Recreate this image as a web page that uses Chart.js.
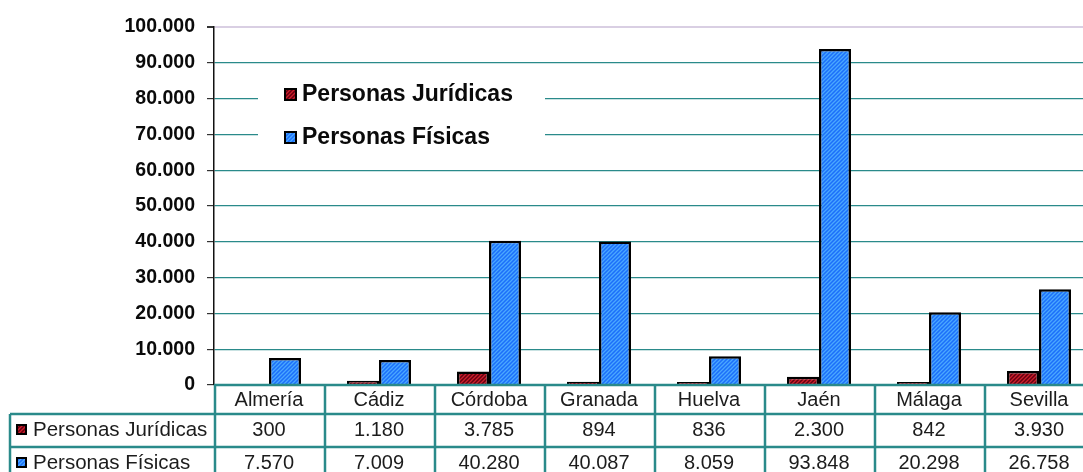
<!DOCTYPE html>
<html>
<head>
<meta charset="utf-8">
<script src="https://cdn.jsdelivr.net/npm/chart.js@4"></script>
<style>
  html, body { margin: 0; padding: 0; background: #fff; overflow: hidden; }
  #wrap { width: 1100px; height: 472px; position: relative; }
</style>
</head>
<body>
<div id="wrap"><canvas id="chart"></canvas></div>
<script>
// =============================
// DATOS
// =============================
const provincias = ["Almería", "Cádiz", "Córdoba", "Granada", "Huelva", "Jaén", "Málaga", "Sevilla"];
const juridicas = [300, 1180, 3785, 894, 836, 2300, 842, 3930];
const fisicas = [7570, 7009, 40280, 40087, 8059, 93848, 20298, 26758];
const serieNombres = ["Personas Jurídicas", "Personas Físicas"];
const yTicks = [0, 10000, 20000, 30000, 40000, 50000, 60000, 70000, 80000, 90000, 100000];

// =============================
// UTIL
// =============================
const FONT = '"Liberation Sans", Arial, sans-serif';
const TEAL = "#2a8a8a";
const fmt = (n) => String(n).replace(/\B(?=(\d{3})+(?!\d))/g, ".");

function hatch(base, stripe) {
  const c = document.createElement("canvas");
  c.width = 4; c.height = 4;
  const g = c.getContext("2d");
  g.fillStyle = base;
  g.fillRect(0, 0, 4, 4);
  g.strokeStyle = stripe;
  g.lineWidth = 1.3;
  g.beginPath();
  g.moveTo(0, 4); g.lineTo(4, 0);
  g.moveTo(-1, 1); g.lineTo(1, -1);
  g.moveTo(3, 5); g.lineTo(5, 3);
  g.stroke();
  return document.getElementById("chart").getContext("2d").createPattern(c, "repeat");
}

const fillRojo = hatch("#66000f", "#cc1f2d");
const fillAzul = hatch("#1c6ffa", "#4aa8ff");

function marker(ctx, x, y, size, fill) {
  ctx.fillStyle = fill;
  ctx.fillRect(x, y, size, size);
  ctx.strokeStyle = "#000";
  ctx.lineWidth = 2;
  ctx.strokeRect(x, y, size, size);
}

// leyenda dentro del área del gráfico
const leyendaPlugin = {
  id: "leyenda",
  afterDatasetsDraw(chart) {
    const { ctx, chartArea } = chart;
    const x0 = chartArea.left + 44;
    ctx.save();
    ctx.fillStyle = "#fff";
    ctx.fillRect(x0, 76, 287, 84);
    chart.data.datasets.forEach((ds, i) => {
      const cy = 95 + i * 43;
      marker(ctx, x0 + 27, cy - 6, 11, ds.backgroundColor);
      ctx.fillStyle = "#0a0a0a";
      ctx.font = "bold 23px " + FONT;
      ctx.textBaseline = "middle";
      ctx.fillText(ds.label, x0 + 44, cy);
    });
    ctx.restore();
  }
};

// tabla de datos bajo el eje
const tablaPlugin = {
  id: "tabla",
  afterDraw(chart) {
    const { ctx } = chart;
    const x = chart.scales.x;
    const top = chart.chartArea.bottom;
    const r1 = top + 29, r2 = top + 62, bottom = chart.height + 10;
    const colW = (x.right - x.left) / provincias.length;
    ctx.save();
    ctx.strokeStyle = TEAL;
    ctx.lineWidth = 2.5;
    ctx.beginPath();
    ctx.moveTo(x.left, top); ctx.lineTo(chart.width, top);
    ctx.moveTo(10, r1); ctx.lineTo(chart.width, r1);
    ctx.moveTo(10, r2); ctx.lineTo(chart.width, r2);
    ctx.moveTo(10, r1); ctx.lineTo(10, bottom);
    for (let i = 0; i <= provincias.length; i++) {
      const bx = x.left + i * colW + 1;
      ctx.moveTo(bx, top); ctx.lineTo(bx, bottom);
    }
    ctx.stroke();

    ctx.fillStyle = "#1c1c1c";
    ctx.font = "20px " + FONT;
    ctx.textAlign = "center";
    ctx.textBaseline = "middle";
    provincias.forEach((p, i) => {
      const cx = x.getPixelForTick(i);
      ctx.fillText(p, cx, top + 15);
      ctx.fillText(fmt(juridicas[i]), cx, r1 + 16);
      ctx.fillText(fmt(fisicas[i]), cx, r2 + 16);
    });

    ctx.textAlign = "left";
    ctx.font = "20.5px " + FONT;
    chart.data.datasets.forEach((ds, i) => {
      const cy = (i === 0 ? r1 : r2) + 16;
      marker(ctx, 17, cy - 5, 9, ds.backgroundColor);
      ctx.fillStyle = "#1c1c1c";
      ctx.fillText(ds.label, 33, cy);
    });
    ctx.restore();
  }
};

// =============================
// GRÁFICO
// =============================
new Chart(document.getElementById("chart"), {
  type: "bar",
  data: {
    labels: provincias,
    datasets: [
      { label: serieNombres[0], data: juridicas, backgroundColor: fillRojo },
      { label: serieNombres[1], data: fisicas, backgroundColor: fillAzul }
    ]
  },
  options: {
    responsive: true,
    maintainAspectRatio: false,
    animation: false,
    devicePixelRatio: 1,
    layout: { padding: { top: 27, bottom: 87, left: 0, right: 6 } },
    datasets: {
      bar: {
        borderColor: "#000",
        borderWidth: 2.5,
        categoryPercentage: 0.582,
        barPercentage: 1
      }
    },
    plugins: {
      legend: { display: false },
      tooltip: { enabled: false }
    },
    scales: {
      x: { display: false },
      y: {
        min: 0,
        max: 100000,
        afterFit: (s) => { s.width = 214; },
        afterBuildTicks: (s) => { s.ticks = yTicks.map((v) => ({ value: v })); },
        ticks: {
          padding: 12,
          color: "#0a0a0a",
          font: { family: FONT, size: 19.5, weight: "bold" },
          callback: (v) => fmt(v)
        },
        grid: {
          color: (c) => (c.tick && c.tick.value === 100000 ? "#d9cfe3" : TEAL),
          lineWidth: (c) => (c.tick && c.tick.value === 100000 ? 2 : 1.2),
          tickColor: "#333",
          tickLength: 7
        },
        border: { color: "#111", width: 1.5 }
      }
    }
  },
  plugins: [leyendaPlugin, tablaPlugin]
});
</script>
</body>
</html>
